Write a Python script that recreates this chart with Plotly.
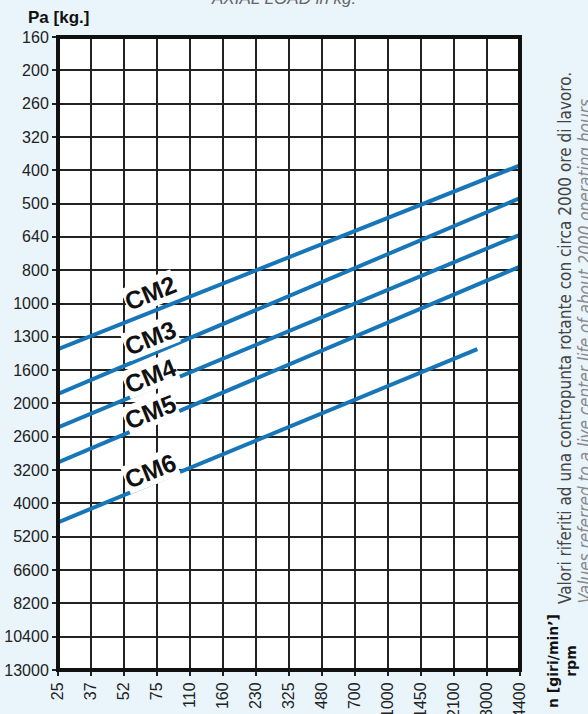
import numpy as np
import plotly.graph_objects as go

# ---- data ----
rpm_labels = [25, 37, 52, 75, 110, 160, 230, 325, 480, 700, 1000, 1450, 2100, 3000, 4400]
load_labels = [160, 200, 260, 320, 400, 500, 640, 800, 1000, 1300, 1600, 2000,
               2600, 3200, 4000, 5200, 6600, 8200, 10400, 13000]

series_names = ["CM2", "CM3", "CM4", "CM5", "CM6"]
series_rpm = [[25, 4400], [25, 4400], [25, 4400], [25, 4400], [25, 2730]]
series_load = [[1400, 390], [1910, 490], [2410, 632], [3075, 788], [4660, 1400]]

# the chart's scales are logarithmic with evenly spaced (rounded) tick labels
rpm_tickpos = [rpm_labels[0] * (rpm_labels[-1] / rpm_labels[0]) ** (i / (len(rpm_labels) - 1))
               for i in range(len(rpm_labels))]
load_tickpos = [load_labels[0] * (load_labels[-1] / load_labels[0]) ** (i / (len(load_labels) - 1))
                for i in range(len(load_labels))]

LINE_COLOR = "#1776b8"
BG = "#e9f4fb"

fig = go.Figure()
for name, xs, ys in zip(series_names, series_rpm, series_load):
    fig.add_trace(go.Scatter(x=xs, y=ys, mode="lines", name=name,
                             line=dict(color=LINE_COLOR, width=4),
                             showlegend=False, hoverinfo="skip"))

W, H = 588, 714
L, R, T, B = 58, 68, 37, 44
pw, ph = W - L - R, H - T - B


def px2paper(px, py):
    return (px - L) / pw, (H - B - py) / ph


fig.update_layout(
    width=W, height=H,
    margin=dict(l=L, r=R, t=T, b=B, autoexpand=False),
    paper_bgcolor=BG, plot_bgcolor="white",
    font=dict(family="Liberation Sans, Arial, sans-serif", color="#222"),
)
fig.update_xaxes(
    type="log", automargin=False,
    range=[np.log10(rpm_labels[0]), np.log10(rpm_labels[-1])],
    tickvals=rpm_tickpos, ticktext=[str(v) for v in rpm_labels],
    tickangle=-90, tickfont=dict(size=16, color="#222"),
    showgrid=True, gridcolor="#222", gridwidth=2,
    ticks="outside", ticklen=5, tickwidth=2, tickcolor="#222",
    zeroline=False, showline=False,
)
fig.update_yaxes(
    type="log", automargin=False,
    range=[np.log10(load_labels[-1]), np.log10(load_labels[0])],
    tickvals=load_tickpos, ticktext=[str(v) for v in load_labels],
    tickfont=dict(size=16, color="#222"),
    showgrid=True, gridcolor="#222", gridwidth=2,
    ticks="outside", ticklen=5, tickwidth=2, tickcolor="#222",
    zeroline=False, showline=False,
)

# plot border
fig.add_shape(type="rect", xref="paper", yref="paper", x0=0, y0=0, x1=1, y1=1,
              line=dict(color="#111", width=4), layer="above")

# series labels
label_centers = [(150, 293), (150, 338), (150, 376), (150, 412), (150, 471)]
for name, (cx, cy) in zip(series_names, label_centers):
    xp, yp = px2paper(cx, cy)
    fig.add_annotation(xref="paper", yref="paper", x=xp, y=yp, text="<b>%s</b>" % name,
                       showarrow=False, textangle=-22, xanchor="center", yanchor="middle",
                       font=dict(size=25, color="#111", family="Liberation Sans, Arial, sans-serif"),
                       bgcolor="white", borderpad=0)

# title (cut at top)
xp, yp = px2paper(283, -1)
fig.add_annotation(xref="paper", yref="paper", x=xp, y=yp, text="<i>AXIAL LOAD in kg.</i>",
                   showarrow=False, xanchor="center", yanchor="middle",
                   font=dict(size=17, color="#666"))

# y axis title
xp, yp = px2paper(58, 17)
fig.add_annotation(xref="paper", yref="paper", x=xp, y=yp, text="<b>Pa [kg.]</b>",
                   showarrow=False, xanchor="center", yanchor="middle",
                   font=dict(size=17, color="#111"))

# x axis title (two rotated lines)
xp, yp = px2paper(562, 661)
fig.add_annotation(xref="paper", yref="paper", x=xp, y=yp,
                   text="<b>n [giri/min’]</b><br><b>rpm</b>", align="center",
                   showarrow=False, textangle=-90, xanchor="center", yanchor="middle",
                   font=dict(size=14, color="#111", family="DejaVu Sans, sans-serif"))

# side notes
NOTE_FONT = "DejaVu Sans Condensed, Liberation Sans Narrow, Roboto Condensed, Roboto, sans-serif"
xp, yp = px2paper(565, 606)
fig.add_annotation(xref="paper", yref="paper", x=xp, y=yp,
                   text="Valori riferiti ad una contropunta rotante con circa 2000 ore di lavoro.",
                   showarrow=False, textangle=-90, xanchor="center", yanchor="bottom",
                   font=dict(size=17, color="#444", family=NOTE_FONT))
xp, yp = px2paper(584, 606)
fig.add_annotation(xref="paper", yref="paper", x=xp, y=yp,
                   text="<i>Values referred to a live center life of about 2000 operating hours.</i>",
                   showarrow=False, textangle=-90, xanchor="center", yanchor="bottom",
                   font=dict(size=17, color="#888", family=NOTE_FONT))

fig.write_html("out.html", config={"displayModeBar": False},
               post_script="document.body.style.margin='0px';")
